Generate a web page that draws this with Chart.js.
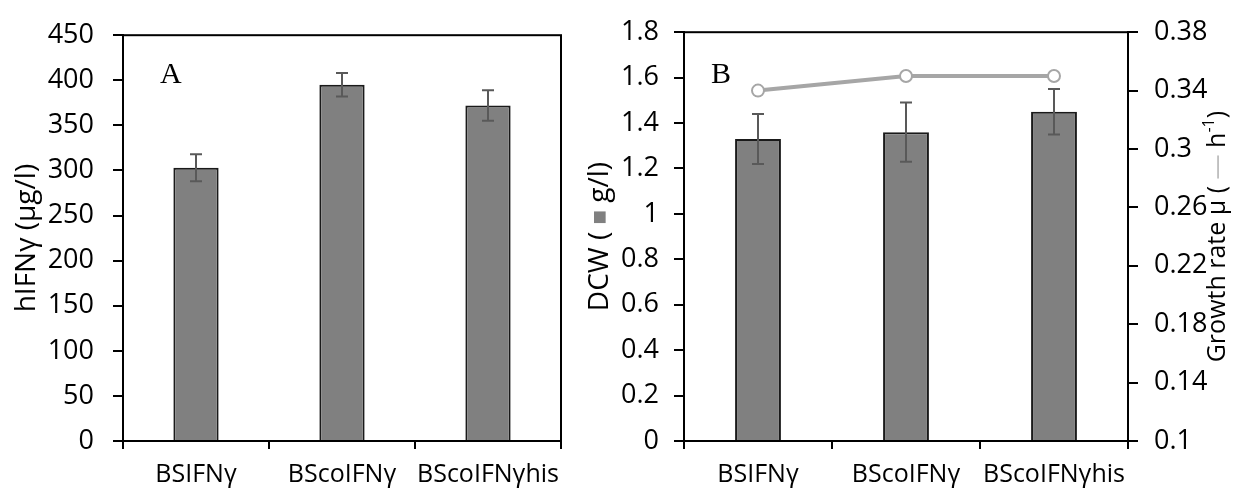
<!DOCTYPE html>
<html>
<head>
<meta charset="utf-8">
<script src="https://cdn.jsdelivr.net/npm/chart.js@4.4.1/dist/chart.umd.min.js"></script>
<style>
  html, body { margin: 0; padding: 0; background: #fff; }
  #wrap { position: relative; width: 1233px; height: 490px; }
  #boxA { position: absolute; left: 0; top: 0; }
  #boxB { position: absolute; left: 580px; top: 0; }
</style>
</head>
<body>
<div id="wrap">
  <div id="boxA"><canvas id="chartA" width="580" height="490"></canvas></div>
  <div id="boxB"><canvas id="chartB" width="653" height="490"></canvas></div>
</div>
<script>
// data
const strains = ['BSIFNγ', 'BScoIFNγ', 'BScoIFNγhis'];
const hifnValues = [303, 395, 372];
const hifnErrors = [15, 13, 17];
const dcwValues = [1.33, 1.36, 1.45];
const dcwErrors = [0.11, 0.13, 0.10];
const growthRates = [0.34, 0.35, 0.35];

const hifnTicks = [0, 50, 100, 150, 200, 250, 300, 350, 400, 450];
const dcwTicks = [0, 0.2, 0.4, 0.6, 0.8, 1, 1.2, 1.4, 1.6, 1.8];
const growthTicks = [0.1, 0.14, 0.18, 0.22, 0.26, 0.3, 0.34, 0.38];

const FONT = 'Open Sans';
const BAR_GREY = '#808080';
const LINE_GREY = '#a6a6a6';

// error bars on a bar dataset
const errorBars = {
  id: 'errorBars',
  afterDatasetDraw(chart, args, opts) {
    if (args.index !== opts.datasetIndex) return;
    const meta = args.meta;
    const yScale = chart.scales[meta.yAxisID];
    const values = chart.data.datasets[args.index].data;
    const ctx = chart.ctx;
    ctx.save();
    ctx.strokeStyle = '#595959';
    ctx.lineWidth = 2;
    meta.data.forEach((bar, i) => {
      const top = yScale.getPixelForValue(values[i] + opts.errors[i]);
      const bot = yScale.getPixelForValue(values[i] - opts.errors[i]);
      ctx.beginPath();
      ctx.moveTo(bar.x, top); ctx.lineTo(bar.x, bot);
      ctx.moveTo(bar.x - 6, top); ctx.lineTo(bar.x + 6, top);
      ctx.moveTo(bar.x - 6, bot); ctx.lineTo(bar.x + 6, bot);
      ctx.stroke();
    });
    ctx.restore();
  }
};

// box around plot area, panel letter and rotated axis titles
const decorations = {
  id: 'decorations',
  afterDraw(chart, args, opts) {
    const ctx = chart.ctx;
    const a = chart.chartArea;
    ctx.save();
    ctx.strokeStyle = '#000';
    ctx.lineWidth = 2;
    ctx.strokeRect(a.left, a.top, a.right - a.left, a.bottom - a.top);

    ctx.fillStyle = '#000';
    ctx.font = '30px "Liberation Serif"';
    ctx.textBaseline = 'alphabetic';
    ctx.fillText(opts.letter, opts.letterX, opts.letterY);

    const cy = (a.top + a.bottom) / 2;
    opts.titles.forEach(t => {
      ctx.save();
      ctx.translate(t.x, cy + (t.dy || 0));
      ctx.rotate(-Math.PI / 2);
      ctx.textBaseline = 'middle';
      let total = 0;
      t.parts.forEach(p => {
        ctx.font = (p.size || t.size) + 'px "' + FONT + '"';
        p.w = ctx.measureText(p.text).width;
        total += p.w;
      });
      let x = -total / 2;
      t.parts.forEach(p => {
        ctx.font = (p.size || t.size) + 'px "' + FONT + '"';
        ctx.fillStyle = p.color || '#000';
        ctx.fillText(p.text, x, p.raise ? -p.raise : 0);
        x += p.w;
      });
      ctx.restore();
    });
    ctx.restore();
  }
};

function xAxis() {
  return {
    offset: true,
    grid: { offset: true, drawOnChartArea: false, tickLength: 8, color: '#000', lineWidth: 2 },
    border: { color: '#000', width: 2 },
    ticks: { font: { family: FONT, size: 25 }, color: '#000', padding: 11, maxRotation: 0, autoSkip: false },
    afterFit: s => { s.height = 49; }
  };
}

function yAxis(min, max, tickList, width, pad, position) {
  return {
    position: position,
    min: min,
    max: max,
    afterBuildTicks: s => { s.ticks = tickList.map(v => ({ value: v })); },
    grid: { drawOnChartArea: false, tickLength: 10, color: '#000', lineWidth: 2 },
    border: { color: '#000', width: 2 },
    ticks: { font: { family: FONT, size: 27 }, color: '#000', padding: pad, callback: v => String(v) },
    afterFit: s => { s.width = width; }
  };
}

const common = {
  responsive: false,
  animation: false,
  events: [],
  plugins: { legend: { display: false }, tooltip: { enabled: false } }
};

// Panel A
new Chart(document.getElementById('chartA').getContext('2d'), {
  type: 'bar',
  data: {
    labels: strains,
    datasets: [{
      data: hifnValues,
      backgroundColor: BAR_GREY,
      borderColor: '#1a1a1a',
      borderWidth: 2,
      categoryPercentage: 1,
      barPercentage: 0.31
    }]
  },
  options: Object.assign({}, common, {
    layout: { padding: { left: 0, right: 19, top: 29, bottom: 0 } },
    scales: {
      x: xAxis(),
      y: yAxis(0, 450, hifnTicks, 123, 19, 'left')
    },
    plugins: Object.assign({}, common.plugins, {
      errorBars: { datasetIndex: 0, errors: hifnErrors },
      decorations: {
        letter: 'A', letterX: 160, letterY: 83,
        titles: [{ x: 27, size: 28, parts: [{ text: 'hIFNγ (µg/l)' }] }]
      }
    })
  }),
  plugins: [errorBars, decorations]
});

// Panel B
new Chart(document.getElementById('chartB').getContext('2d'), {
  type: 'bar',
  data: {
    labels: strains,
    datasets: [{
      type: 'line',
      data: growthRates,
      yAxisID: 'y1',
      order: 0,
      borderColor: LINE_GREY,
      borderWidth: 4,
      pointRadius: 6,
      pointBorderWidth: 2,
      pointBackgroundColor: '#fff',
      pointBorderColor: LINE_GREY
    }, {
      data: dcwValues,
      yAxisID: 'y',
      order: 1,
      backgroundColor: BAR_GREY,
      borderColor: '#1a1a1a',
      borderWidth: 2,
      categoryPercentage: 1,
      barPercentage: 0.31
    }]
  },
  options: Object.assign({}, common, {
    layout: { padding: { left: 0, right: 0, top: 32, bottom: 0 } },
    scales: {
      x: xAxis(),
      y: yAxis(0, 1.8, dcwTicks, 104, 15, 'left'),
      y1: yAxis(0.1, 0.38, growthTicks, 105, 16, 'right')
    },
    plugins: Object.assign({}, common.plugins, {
      errorBars: { datasetIndex: 1, errors: dcwErrors },
      decorations: {
        letter: 'B', letterX: 131, letterY: 83,
        titles: [
          { x: 20, size: 28, parts: [{ text: 'DCW ( ' }, { text: '■', color: BAR_GREY, size: 24 }, { text: ' g/l)' }] },
          { x: 638, size: 25, parts: [
            { text: 'Growth rate µ ( ' },
            { text: '—', color: '#bfbfbf' },
            { text: ' h' },
            { text: '-1', size: 16, raise: 9 },
            { text: ')' }
          ] }
        ]
      }
    })
  }),
  plugins: [errorBars, decorations]
});
</script>
</body>
</html>
